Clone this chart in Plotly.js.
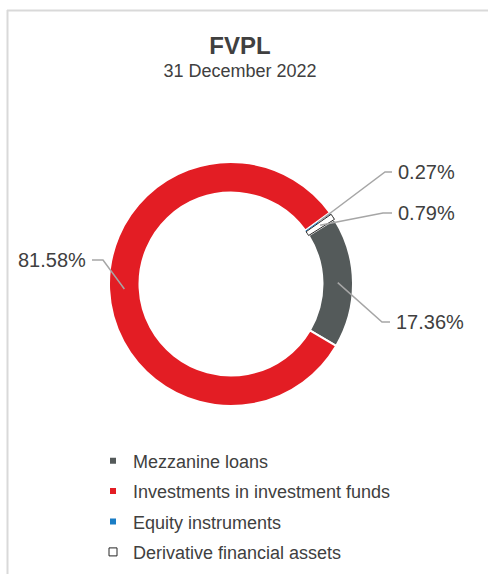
<!DOCTYPE html>
<html><head><meta charset="utf-8">
<script src="https://cdn.plot.ly/plotly-3.0.1.min.js"></script>
<style>html,body{margin:0;padding:0;background:#fff}#chart{width:488px;height:574px}</style>
</head><body><div id="chart"></div>
<script>
// ---- data ----
const categories = ['Mezzanine loans', 'Investments in investment funds', 'Equity instruments', 'Derivative financial assets'];
const shares = [17.36, 81.58, 0.27, 0.79];
const percentLabels = ['17.36%', '81.58%', '0.27%', '0.79%'];
const titleText = 'FVPL';
const subtitleText = '31 December 2022';

// ---- styling ----
const W = 488, H = 574;
const colors = ['#545a5a', '#e31d24', '#1a7dc5', '#ffffff'];
const sliceLineColors = ['#ffffff', '#ffffff', '#ffffff', '#262626'];
const sliceLineWidths = [2, 2, 1, 1];
const textColor = '#404040';
const fontFamily = '"Liberation Sans", Arial, sans-serif';
const dom = {x: [109 / W, 353 / W], y: [1 - 406 / H, 1 - 162 / H]};
const rotation = 58;
const hole = 0.75;
// leader-line elbows and ends (pixels), text side
const labelGeom = [
  {elbow: [382, 322], end: [390, 322], side: 'left'},
  {elbow: [103, 260], end: [92, 260], side: 'right'},
  {elbow: [385, 172], end: [392, 172], side: 'left'},
  {elbow: [383, 213], end: [392, 213], side: 'left'}
];
const px = x => x / W, py = y => 1 - y / H;

// ---- leader lines computed from slice angles ----
const total = shares.reduce((a, b) => a + b, 0);
const cxp = (dom.x[0] + dom.x[1]) / 2 * W;
const cyp = (1 - (dom.y[0] + dom.y[1]) / 2) * H;
const R = Math.min((dom.x[1] - dom.x[0]) * W, (dom.y[1] - dom.y[0]) * H) / 2;
const rMid = R * (1 + hole) / 2;
const shapes = [
  {type: 'line', xref: 'paper', yref: 'paper', x0: px(7), x1: 1, y0: py(10.5), y1: py(10.5), line: {color: '#d9d9d9', width: 2}},
  {type: 'line', xref: 'paper', yref: 'paper', x0: px(7.5), x1: px(7.5), y0: py(10), y1: 0, line: {color: '#d9d9d9', width: 2}}
];
const annotations = [];
let ang = rotation;
shares.forEach((v, i) => {
  const mid = ang + v / total * 180;
  ang += v / total * 360;
  const a = mid * Math.PI / 180;
  const ax = cxp + rMid * Math.sin(a), ay = cyp - rMid * Math.cos(a);
  const g = labelGeom[i];
  shapes.push({
    type: 'path', xref: 'paper', yref: 'paper',
    path: `M${px(ax)},${py(ay)} L${px(g.elbow[0])},${py(g.elbow[1])} L${px(g.end[0])},${py(g.end[1])}`,
    line: {color: '#a6a6a6', width: 1.5}
  });
  annotations.push({
    xref: 'paper', yref: 'paper', showarrow: false,
    x: px(g.end[0] + (g.side === 'left' ? 4 : -4)), y: py(g.end[1]),
    xanchor: g.side, yanchor: 'middle',
    text: percentLabels[i], font: {family: fontFamily, size: 20, color: textColor}
  });
});

const pie = {
  type: 'pie', labels: categories, values: shares, sort: false, direction: 'clockwise',
  rotation: rotation, hole: hole, domain: dom, textinfo: 'none', showlegend: false,
  marker: {colors: colors, line: {color: sliceLineColors, width: sliceLineWidths}},
  hoverinfo: 'label+percent'
};
const legendTraces = categories.map((c, i) => ({
  type: 'scatter', x: [null], y: [null], mode: 'markers', name: c, legendgroup: 'g' + i,
  marker: {symbol: 'square', size: i === 3 ? 8 : 6, color: colors[i],
    line: {color: i === 3 ? '#262626' : colors[i], width: i === 3 ? 1 : 0}},
  hoverinfo: 'skip'
}));

const layout = {
  width: W, height: H, margin: {l: 0, r: 0, t: 0, b: 0},
  paper_bgcolor: '#ffffff', plot_bgcolor: '#ffffff',
  xaxis: {visible: false}, yaxis: {visible: false},
  title: {
    text: `<span style="font-size:24px;font-weight:bold">${titleText}</span><br>${subtitleText}`,
    font: {family: fontFamily, size: 18, color: textColor},
    x: 240 / W, xanchor: 'center', xref: 'paper', yref: 'container', y: 1 - 54 / H, yanchor: 'top'
  },
  legend: {
    x: px(93), y: py(442.5), xanchor: 'left', yanchor: 'top', tracegroupgap: 4,
    font: {family: fontFamily, size: 18, color: textColor}, bgcolor: 'rgba(0,0,0,0)'
  },
  shapes: shapes, annotations: annotations
};
Plotly.newPlot('chart', [pie].concat(legendTraces), layout, {displayModeBar: false});
</script></body></html>
